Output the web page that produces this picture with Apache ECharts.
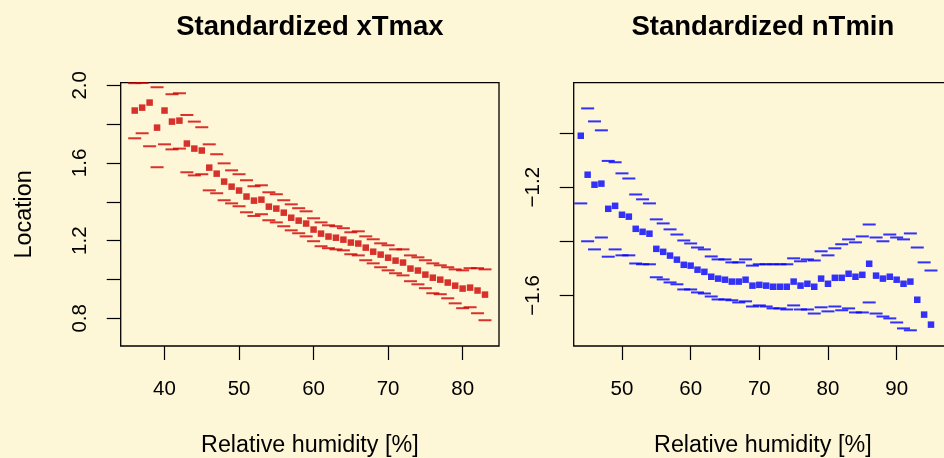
<!DOCTYPE html>
<html>
<head>
<meta charset="utf-8">
<script src="https://cdn.jsdelivr.net/npm/echarts@6/dist/echarts.min.js"></script>
<style>
  html, body { margin: 0; padding: 0; background: #fdf6d7; }
  #container { width: 944px; height: 458px; }
</style>
</head>
<body>
<div id="container"></div>
<script>
let chart = echarts.init(document.getElementById('container'));
const FONT = 'Liberation Sans';

// left panel: standardized xTmax
var humidLeft = [36, 37, 38, 39, 40, 41, 42, 43, 44, 45, 46, 47, 48, 49, 50, 51, 52, 53, 54, 55, 56, 57, 58, 59,
    60, 61, 62, 63, 64, 65, 66, 67, 68, 69, 70, 71, 72, 73, 74, 75, 76, 77, 78, 79, 80, 81, 82, 83];
var xTmaxLoc = [1.870, 1.885, 1.911, 1.782, 1.870, 1.813, 1.818, 1.700, 1.674, 1.664, 1.576, 1.545, 1.504, 1.478,
    1.458, 1.427, 1.406, 1.411, 1.375, 1.365, 1.344, 1.318, 1.303, 1.288, 1.257, 1.236, 1.221, 1.215, 1.205,
    1.190, 1.185, 1.164, 1.143, 1.128, 1.112, 1.097, 1.087, 1.056, 1.046, 1.025, 1.009, 0.999, 0.984, 0.968,
    0.953, 0.958, 0.943, 0.922];
var xTmaxUpper = [2.011, 2.012, null, 1.990, null, 1.954, 1.959, 1.847, 1.813, 1.784, 1.696, 1.645, 1.598, 1.562,
    1.542, 1.511, 1.480, 1.485, 1.449, 1.439, 1.408, 1.387, 1.367, 1.351, 1.315, 1.294, 1.279, 1.274, 1.264,
    1.243, 1.248, 1.222, 1.207, 1.186, 1.176, 1.155, 1.155, 1.124, 1.114, 1.099, 1.083, 1.073, 1.063, 1.052,
    1.047, 1.058, 1.058, 1.052];
var xTmaxLower = [1.727, 1.753, 1.686, 1.578, 1.696, 1.670, 1.674, 1.552, 1.536, 1.542, 1.459, 1.444, 1.408, 1.392,
    1.377, 1.346, 1.327, 1.336, 1.305, 1.294, 1.274, 1.253, 1.238, 1.222, 1.197, 1.171, 1.161, 1.155, 1.150,
    1.130, 1.124, 1.099, 1.083, 1.063, 1.047, 1.032, 1.021, 0.991, 0.975, 0.955, 0.929, 0.924, 0.903, 0.877,
    0.852, 0.857, 0.826, 0.790];

// right panel: standardized nTmin
var humidRight = [44, 45, 46, 47, 48, 49, 50, 51, 52, 53, 54, 55, 56, 57, 58, 59, 60, 61, 62, 63, 64, 65, 66, 67,
    68, 69, 70, 71, 72, 73, 74, 75, 76, 77, 78, 79, 80, 81, 82, 83, 84, 85, 86, 87, 88, 89, 90, 91, 92, 93, 94, 95];
var nTminLoc = [-1.010, -1.154, -1.191, -1.187, -1.280, -1.269, -1.302, -1.309, -1.354, -1.365, -1.372, -1.428,
    -1.439, -1.453, -1.468, -1.487, -1.490, -1.505, -1.513, -1.531, -1.538, -1.542, -1.549, -1.549, -1.542,
    -1.564, -1.561, -1.564, -1.568, -1.568, -1.568, -1.549, -1.564, -1.557, -1.568, -1.538, -1.557, -1.535,
    -1.535, -1.520, -1.531, -1.524, -1.483, -1.527, -1.538, -1.531, -1.542, -1.557, -1.549, -1.616, -1.671, -1.708];
var nTminUpper = [null, -0.909, -0.957, -0.990, -1.103, -1.108, -1.149, -1.168, -1.227, -1.245, -1.260, -1.319,
    -1.334, -1.356, -1.375, -1.397, -1.408, -1.423, -1.430, -1.456, -1.467, -1.467, -1.478, -1.478, -1.467,
    -1.490, -1.485, -1.485, -1.485, -1.485, -1.485, -1.463, -1.474, -1.467, -1.471, -1.437, -1.452, -1.426,
    -1.411, -1.393, -1.404, -1.382, -1.338, -1.386, -1.400, -1.375, -1.386, -1.393, -1.371, -1.423, -1.478, -1.508];
var nTminLower = [-1.260, -1.400, -1.430, -1.386, -1.457, -1.430, -1.452, -1.452, -1.482, -1.485, -1.485, -1.533,
    -1.541, -1.552, -1.559, -1.578, -1.578, -1.589, -1.593, -1.604, -1.615, -1.615, -1.618, -1.626, -1.622,
    -1.641, -1.637, -1.641, -1.648, -1.648, -1.652, -1.637, -1.652, -1.652, -1.667, -1.644, -1.659, -1.641,
    -1.655, -1.648, -1.663, -1.663, -1.626, -1.667, -1.678, -1.685, -1.700, -1.722, -1.729, null, null, null];

var xTicksLeft = [40, 50, 60, 70, 80];
var xTicksRight = [50, 60, 70, 80, 90];
var yTicksLeft = [0.8, 1.0, 1.2, 1.4, 1.6, 1.8, 2.0];
var yLabelsLeft = [0.8, 1.2, 1.6, 2.0];
var yTicksRight = [-1.6, -1.4, -1.2, -1.0];
var yLabelsRight = [-1.6, -1.2];

function pairs(xs, ys) {
    let out = [];
    xs.forEach((x, i) => {
        if (ys[i] !== null) out.push([x, ys[i]]);
    });
    return out;
}

function xAxis(grid, min, max, ticks) {
    return {
        type: 'value', gridIndex: grid, min: min, max: max,
        name: 'Relative humidity [%]', nameLocation: 'middle', nameGap: 88,
        nameTextStyle: { fontSize: 23.3, color: '#000', fontFamily: FONT },
        axisLine: { show: false },
        splitLine: { show: false },
        axisTick: { show: true, length: 14, customValues: ticks, lineStyle: { color: '#000', width: 1.2 } },
        axisLabel: { customValues: ticks, margin: 33, fontSize: 20.5, color: '#000', fontFamily: FONT },
    };
}

function yAxis(grid, min, max, ticks, labels, name) {
    return {
        type: 'value', gridIndex: grid, min: min, max: max,
        name: name, nameLocation: 'middle', nameGap: 85,
        nameTextStyle: { fontSize: 23.3, color: '#000', fontFamily: FONT },
        axisLine: { show: false },
        splitLine: { show: false },
        axisTick: { show: true, length: 14, customValues: ticks, lineStyle: { color: '#000', width: 1.2 } },
        axisLabel: {
            customValues: labels, margin: 30, rotate: 90, fontSize: 20.5, color: '#000', fontFamily: FONT,
            formatter: v => v.toFixed(1).replace('-', '\u2212'),
        },
    };
}

function dashes(idx, data, color) {
    return {
        type: 'scatter', xAxisIndex: idx, yAxisIndex: idx, animation: false, silent: true,
        symbol: 'rect', symbolSize: [13, 2],
        itemStyle: { color: color },
        data: data,
    };
}

function squares(idx, data, color) {
    return {
        type: 'scatter', xAxisIndex: idx, yAxisIndex: idx, animation: false, silent: true,
        symbol: 'rect', symbolSize: 6.5,
        itemStyle: { color: color },
        data: data,
    };
}

let gridStyle = { show: true, borderColor: '#000', borderWidth: 1.3, backgroundColor: 'transparent', containLabel: false, outerBoundsMode: 'none' };

let option = {
    backgroundColor: '#fdf6d7',
    title: [
        { text: 'Standardized xTmax', left: 309.9, top: 13, textAlign: 'center', padding: 0,
          textStyle: { fontSize: 27.5, fontWeight: 'bold', color: '#000', fontFamily: FONT } },
        { text: 'Standardized nTmin', left: 762.9, top: 13, textAlign: 'center', padding: 0,
          textStyle: { fontSize: 27.5, fontWeight: 'bold', color: '#000', fontFamily: FONT } },
    ],
    grid: [
        Object.assign({ left: 120.7, top: 82.7, width: 378.3, height: 263.3 }, gridStyle),
        Object.assign({ left: 573.7, top: 82.7, width: 378.3, height: 263.3 }, gridStyle),
    ],
    xAxis: [
        xAxis(0, 34.12, 84.88, xTicksLeft),
        xAxis(1, 42.97, 98.06, xTicksRight),
    ],
    yAxis: [
        yAxis(0, 0.6573, 2.0134, yTicksLeft, yLabelsLeft, 'Location'),
        yAxis(1, -1.787, -0.814, yTicksRight, yLabelsRight, ''),
    ],
    series: [
        dashes(0, pairs(humidLeft, xTmaxUpper), '#d00000'),
        dashes(0, pairs(humidLeft, xTmaxLower), '#d00000'),
        squares(0, pairs(humidLeft, xTmaxLoc), '#cc0000'),
        dashes(1, pairs(humidRight, nTminUpper), '#0000ff'),
        dashes(1, pairs(humidRight, nTminLower), '#0000ff'),
        squares(1, pairs(humidRight, nTminLoc), '#0000ff'),
    ],
};
chart.setOption(option);
</script>
</body>
</html>
